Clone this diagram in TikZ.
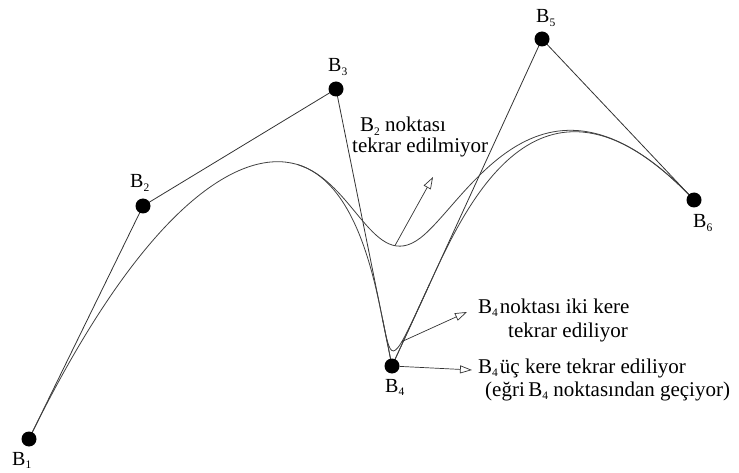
\documentclass[tikz,border=0pt]{standalone}
\usepackage{fontspec}
\setmainfont{Liberation Serif}
\usetikzlibrary{calc,arrows.meta}
% lowered small index after a point name
\newcommand\lowidx[1]{\raisebox{-3.5pt}{\fontsize{11.5}{11.5}\selectfont #1}}
\begin{document}
\begin{tikzpicture}[x=1pt,y=-1pt,
  dot/.style={circle,fill=black,inner sep=0pt,minimum size=15pt},
  poly/.style={draw=black!80,line width=0.8pt},
  spline/.style={draw=black!75,line width=0.8pt},
  note/.style={font=\fontsize{21}{23}\selectfont,anchor=base west,inner sep=0pt},
  ptlabel/.style={font=\fontsize{20}{22}\selectfont,anchor=base west,inner sep=0pt},
  pointer/.style={draw=black!80,line width=0.7pt,-{Triangle[open,length=12pt,width=8pt]}}]
\useasboundingbox (0,0) rectangle (739,473);

% control points
\coordinate (P1) at (29,439);
\coordinate (P2) at (143,206);
\coordinate (P3) at (336,89);
\coordinate (P4) at (392,366);
\coordinate (P5) at (542,39);
\coordinate (P6) at (694,200);

% Bezier points of the clamped cubic B-splines
\coordinate (M23) at ($0.5*(P2)+0.5*(P3)$);
\coordinate (Q1)  at ($0.25*(P2)+0.58333*(P3)+0.16667*(P4)$);
\coordinate (T34) at ($0.66667*(P3)+0.33333*(P4)$);
\coordinate (U34) at ($0.33333*(P3)+0.66667*(P4)$);
\coordinate (R1)  at ($0.16667*(P3)+0.58333*(P4)+0.25*(P5)$);
\coordinate (Q2)  at ($0.16667*(P3)+0.83333*(P4)$);
\coordinate (Q3)  at ($0.75*(P4)+0.25*(P5)$);
\coordinate (M45) at ($0.5*(P4)+0.5*(P5)$);

% control polygon
\draw[poly] (P1) -- (P2) -- (P3) -- (P4) -- (P5) -- (P6);

% B4 once
\draw[spline] (P1) .. controls (P2) and (M23) .. (Q1)
  .. controls (T34) and (U34) .. (R1) coordinate[pos=0.8] (c1)
  .. controls (M45) and (P5) .. (P6);
% B4 twice
\draw[spline] (Q1) .. controls (T34) and (U34) .. (Q2)
  .. controls (P4) and (P4) .. (Q3) coordinate[pos=0.65] (c2)
  .. controls (M45) and (P5) .. (P6);
% B4 three times
\draw[spline] (Q2) -- (P4) -- (Q3);

% points
\foreach \i in {1,...,6} \node[dot] (b\i) at (P\i) {};

% point names
\node[ptlabel] (l1) at (12,465) {B\lowidx{1}};
\node[ptlabel] (l2) at (130,188) {B\lowidx{2}};
\node[ptlabel] (l3) at (328,72) {B\lowidx{3}};
\node[ptlabel] (l4) at (385,392) {B\lowidx{4}};
\node[ptlabel] (l5) at (536,23) {B\lowidx{5}};
\node[ptlabel] (l6) at (693,228) {B\lowidx{6}};

% remarks
\node[note] (n1a) at (360,132) {B\lowidx{2} noktası};
\node[note] (n1b) at (352,153) {tekrar edilmiyor};
\node[note] (n2a) at (478,313) {B\lowidx{4}\hspace{2pt}noktası iki kere};
\node[note] (n2b) at (508,337) {tekrar ediliyor};
\node[note] (n3a) at (478,373) {B\lowidx{4}\hspace{2pt}üç kere tekrar ediliyor};
\node[note] (n3b) at (485,396) {(eğri\,B\lowidx{4} noktasından geçiyor)};

% pointers
\coordinate (t1) at (433,177);
\coordinate (t2) at (467,312);
\coordinate (t3) at (472,370);
\draw[pointer] (c1) -- (t1);
\draw[pointer] (c2) -- (t2);
\draw[pointer] (b4) -- (t3);
\end{tikzpicture}
\end{document}
